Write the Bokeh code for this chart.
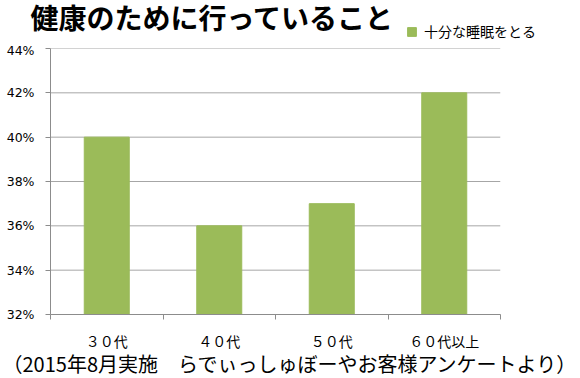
from bokeh.plotting import figure
from bokeh.layouts import column
from bokeh.models import (ColumnDataSource, FixedTicker, LinearAxis, Legend, LegendItem,
                          NumeralTickFormatter, Range1d, Label)
from bokeh.embed import file_html
from bokeh.resources import INLINE

categories = ["３０代", "４０代", "５０代", "６０代以上"]
values = [0.40, 0.36, 0.37, 0.42]
y_ticks = [0.32, 0.34, 0.36, 0.38, 0.40, 0.42, 0.44]
series_name = "十分な睡眠をとる"
title_text = "健康のために行っていること"
footer_text = "（2015年8月実施　らでぃっしゅぼーやお客様アンケートより）"

FONT = "Noto Sans CJK JP"
NUMFONT = "DejaVu Sans"
GREEN = "#9BBB59"
AXIS = "#8c8c8c"
GRID = "#a6a6a6"
W = 580
TOP_H, MID_H, BOT_H = 42, 311, 25


def bare(fig):
    fig.outline_line_color = None
    fig.background_fill_color = "white"
    fig.border_fill_color = "white"
    fig.xgrid.visible = False
    fig.ygrid.visible = False
    return fig


n = len(categories)
x_centers = [i + 0.5 for i in range(n)]
src = ColumnDataSource(dict(x=x_centers, top=values, cat=categories))

# ---- header: title + legend ----
top = bare(figure(width=W, height=TOP_H, output_backend="svg", toolbar_location=None,
                  x_range=Range1d(0, W), y_range=Range1d(0, TOP_H), frame_align=False,
                  min_border=0, x_axis_location=None, y_axis_location=None))
top.add_layout(Label(x=30, y=26, x_units="screen", y_units="screen", text=title_text,
                     text_font=FONT, text_font_size="28px", text_font_style="bold",
                     text_color="#000000", text_baseline="middle"))
# legend swatch renderer (series kept hidden here; shown only through the legend)
swatch = top.vbar(x="x", top="top", bottom=y_ticks[0], width=0.4, source=src,
                  color=GREEN, visible=False)
legend = Legend(items=[LegendItem(label=series_name, renderers=[swatch])],
                location=(406, 1), border_line_color=None, background_fill_alpha=0,
                inactive_fill_alpha=0,
                label_text_font=FONT, label_text_font_size="14px", label_text_color="#000000",
                glyph_width=11, glyph_height=11, label_standoff=7, padding=0, margin=0,
                label_height=14)
top.add_layout(legend, "center")

# ---- chart ----
p = bare(figure(width=W, height=MID_H, output_backend="svg", toolbar_location=None,
                x_range=Range1d(0, n), y_range=Range1d(y_ticks[0], y_ticks[-1]),
                frame_align=False,
                min_border_left=50, min_border_right=80, min_border_top=6,
                min_border_bottom=38, x_axis_location=None, y_axis_location=None))

p.segment(x0=[0] * len(y_ticks), x1=[n] * len(y_ticks), y0=y_ticks, y1=y_ticks,
          line_color=GRID, line_width=1)
p.vbar(x="x", top="top", bottom=y_ticks[0], width=0.4, source=src, color=GREEN)

ya = LinearAxis(ticker=FixedTicker(ticks=y_ticks), formatter=NumeralTickFormatter(format="0%"))
ya.axis_line_color = AXIS
ya.major_tick_line_color = AXIS
ya.major_tick_out = 5
ya.major_tick_in = 0
ya.minor_tick_line_color = None
ya.major_label_text_font = NUMFONT
ya.major_label_text_font_size = "12.5px"
ya.major_label_text_color = "#000000"
ya.major_label_standoff = 11
p.add_layout(ya, "left")

xa = LinearAxis(ticker=FixedTicker(ticks=list(range(n + 1))))
xa.axis_line_color = AXIS
xa.major_tick_line_color = AXIS
xa.major_tick_out = 5
xa.major_tick_in = 0
xa.minor_tick_line_color = None
xa.major_label_text_font_size = "0px"
xa.major_label_text_color = None
xa.major_label_standoff = 0
p.add_layout(xa, "below")

lab_axis = LinearAxis(ticker=FixedTicker(ticks=x_centers),
                      major_label_overrides={x: c for x, c in zip(x_centers, categories)})
lab_axis.axis_line_color = None
lab_axis.major_tick_line_color = None
lab_axis.minor_tick_line_color = None
lab_axis.major_label_text_font = FONT
lab_axis.major_label_text_font_size = "14px"
lab_axis.major_label_text_color = "#000000"
lab_axis.major_label_standoff = 5
p.add_layout(lab_axis, "below")

# ---- footer ----
foot = bare(figure(width=W, height=BOT_H, output_backend="svg", toolbar_location=None,
                   x_range=Range1d(0, W), y_range=Range1d(0, BOT_H), frame_align=False,
                   min_border=0, x_axis_location=None, y_axis_location=None))
foot.add_layout(Label(x=2, y=15, x_units="screen", y_units="screen", text=footer_text,
                      text_font=FONT, text_font_size="20px", text_color="#000000",
                      text_baseline="middle"))

layout = column(top, p, foot, spacing=0)
open("out.html", "w").write(file_html(layout, INLINE))
